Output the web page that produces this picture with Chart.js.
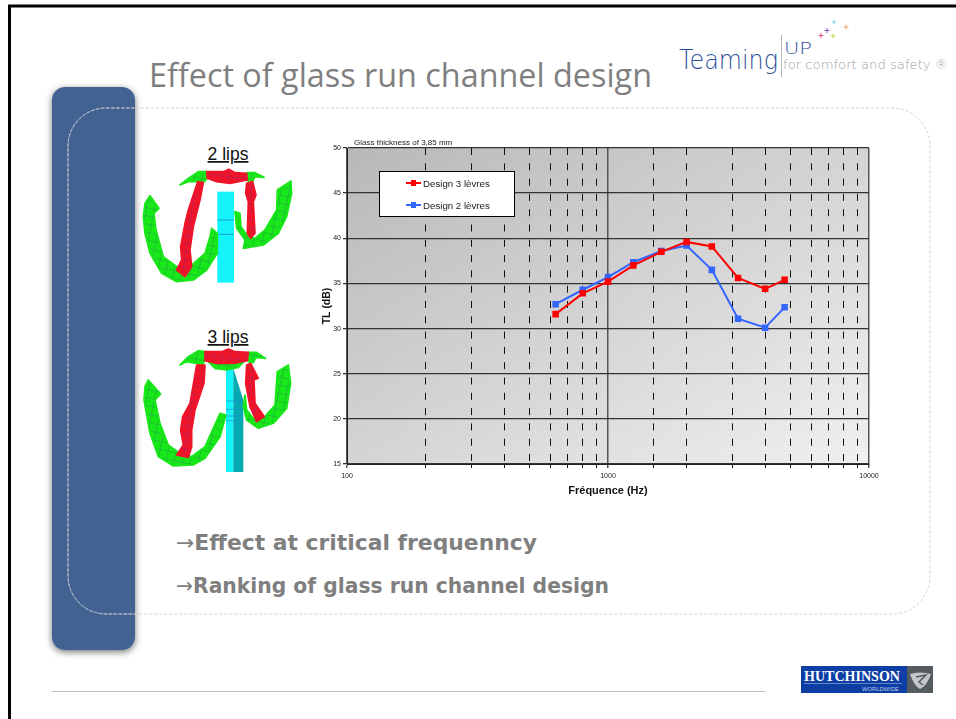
<!DOCTYPE html>
<html>
<head>
<meta charset="utf-8">
<title>Effect of glass run channel design</title>
<script src="https://cdn.jsdelivr.net/npm/chart.js@4/dist/chart.umd.min.js"></script>
<style>
  html, body { margin: 0; padding: 0; background: #fff; overflow: hidden; }
  body { position: relative; width: 956px; height: 719px; font-family: "Liberation Sans", sans-serif; }
  #slide { position: absolute; left: 0; top: 0; }
  #chart { position: absolute; left: 320px; top: 130px; }
  #chartNote { position: absolute; left: 354px; top: 137.5px; font-size: 8px; line-height: 10px; color: #222; }
  #legend { position: absolute; left: 379px; top: 171px; width: 134px; height: 44px; background: #fff; border: 1px solid #000; }
  .row { position: absolute; left: 26px; font-size: 9.7px; line-height: 12px; color: #222; white-space: nowrap; }
  .row i { display: inline-block; position: relative; width: 15px; height: 2px; margin-right: 2px; vertical-align: 3px; }
  .row b { position: absolute; left: 5px; top: -2px; width: 5px; height: 6px; background: inherit; }
  .green polygon { stroke: #18e818; stroke-width: 5; stroke-linejoin: round; }
  .red polygon { stroke: #f01428; stroke-width: 5; stroke-linejoin: round; }
</style>
</head>
<body>
<svg id="slide" width="956" height="719" viewBox="0 0 956 719">
  <defs>
    <filter id="shadow" x="-20%" y="-5%" width="140%" height="110%">
      <feDropShadow dx="0" dy="2" stdDeviation="3.5" flood-color="#000" flood-opacity="0.55"/>
    </filter>
    <pattern id="greenMesh" width="24" height="24" patternUnits="userSpaceOnUse" patternTransform="rotate(12)">
      <rect width="24" height="24" fill="#18e818"/>
      <path d="M0 0H24M0 0V24" stroke="#1e7a60" stroke-width="2"/>
    </pattern>
    <pattern id="redMesh" width="24" height="24" patternUnits="userSpaceOnUse" patternTransform="rotate(8)">
      <rect width="24" height="24" fill="#f01428"/>
      <path d="M0 0H24M0 0V24" stroke="#7a2a78" stroke-width="2"/>
    </pattern>
  </defs>

  <!-- slide frame -->
  <path d="M9.5 719V6H956" fill="none" stroke="#000" stroke-width="3"/>
  <line x1="52" y1="691.5" x2="765" y2="691.5" stroke="#bdbdbd" stroke-width="1"/>

  <!-- side bar and dashed panel -->
  <rect x="52" y="87" width="83" height="563" rx="13" fill="#426491" filter="url(#shadow)"/>
  <rect x="68" y="108" width="862" height="506" rx="38" fill="none" stroke="#d4d4d4" stroke-width="1" stroke-dasharray="3 2"/>
  <path d="M135 108H106A38 38 0 0 0 68 146V576A38 38 0 0 0 106 614H135" fill="none" stroke="#9fb0c6" stroke-width="1" stroke-dasharray="3 2"/>

  <text x="149" y="87" font-family="Open Sans" font-size="32" fill="#7f7f7f" textLength="503" lengthAdjust="spacingAndGlyphs">Effect of glass run channel design</text>

  <!-- Teaming up logo -->
  <text x="679" y="69" font-family="DejaVu Sans" font-weight="200" font-size="26" fill="#2c4f9c" textLength="99" lengthAdjust="spacingAndGlyphs">Teaming</text>
  <line x1="781.5" y1="35" x2="781.5" y2="77" stroke="#b8b8b8" stroke-width="1"/>
  <text x="784" y="54" font-family="DejaVu Sans" font-weight="200" font-size="15.5" fill="#2c4f9c" textLength="28" lengthAdjust="spacingAndGlyphs">UP</text>
  <text x="783" y="69" font-family="DejaVu Sans" font-weight="200" font-size="12" fill="#a0a0a0" textLength="165" lengthAdjust="spacingAndGlyphs">for comfort and safety ®</text>
  <g stroke-width="1" fill="none">
    <path d="M834 19.5v5M831.5 22h5" stroke="#8fd4ee"/>
    <path d="M846 24.5v5M843.5 27h5" stroke="#f0a070"/>
    <path d="M827 28v5M824.5 30.500h5" stroke="#8a5aa8"/>
    <path d="M821 33v5M818.500 35.500h5" stroke="#d8508a"/>
    <path d="M833 33.500v5M830.500 36h5" stroke="#c4d850"/>
  </g>

  <!-- 2 lips section drawing -->
  <text x="228" y="160" font-size="17.500" text-anchor="middle" text-decoration="underline" fill="#111" font-family="Liberation Sans">2 lips</text>
  <g transform="translate(130 130) scale(0.3333)">
    <rect x="262" y="185" width="50" height="273" fill="#14f4fa"/>
    <path d="M262 270H312M262 313H312" stroke="#1aa0d8" stroke-width="3"/>
    <g class="green" fill="url(#greenMesh)">
      <polygon points="60,197 87,235 72,250 78,300 100,380 140,410 180,410 225,370 240,320 245,295 262,310 262,370 230,420 190,450 140,455 95,430 60,370 45,310 40,260 45,220"/>
      <polygon points="315,245 330,250 333,290 355,320 375,325 405,300 440,240 442,180 483,153 485,190 470,260 445,310 400,345 340,355 345,330 320,295"/>
      <polygon points="150,165 175,145 205,125 232,125 232,145 220,158 205,155 175,155"/>
      <polygon points="350,128 375,128 402,142 375,140 368,155 352,152"/>
    </g>
    <g class="red" fill="url(#redMesh)">
      <polygon points="230,125 280,125 297,118 315,128 350,130 352,150 300,160 260,155 232,145"/>
      <polygon points="203,155 220,158 210,210 190,290 180,360 185,410 165,440 140,420 155,390 152,350 165,280 175,240"/>
      <polygon points="350,160 368,155 378,195 370,215 375,310 362,325 352,310 355,215 347,190"/>
    </g>
  </g>

  <!-- 3 lips section drawing -->
  <text x="228" y="343" font-size="17.500" text-anchor="middle" text-decoration="underline" fill="#111" font-family="Liberation Sans">3 lips</text>
  <g transform="translate(130 320) scale(0.3333)">
    <rect x="288" y="145" width="22" height="311" fill="#14f4fa"/>
    <polygon points="310,145 340,240 340,456 310,456" fill="#04a8b0"/>
    <path d="M288 243H340M288 268H340M288 288H340M288 302H340" stroke="#1a90c8" stroke-width="2"/>
    <g class="green" fill="url(#greenMesh)">
      <polygon points="55,180 92,222 75,240 90,310 115,375 150,400 185,410 225,380 270,280 288,285 270,350 225,415 190,435 130,438 85,410 60,340 42,240 45,200"/>
      <polygon points="345,225 350,270 370,295 400,295 435,255 442,155 475,135 482,190 470,265 430,310 385,325 350,300 340,260"/>
      <polygon points="232,122 345,122 325,142 290,150 255,145"/>
      <polygon points="150,135 175,110 205,92 225,95 225,120 218,135 200,130 170,125"/>
      <polygon points="353,97 380,97 407,115 378,112 370,128 355,125"/>
    </g>
    <g class="red" fill="url(#redMesh)">
      <polygon points="225,95 275,95 295,87 315,95 355,97 352,122 310,130 260,130 225,122"/>
      <polygon points="200,135 225,135 222,190 195,270 185,330 185,380 175,412 140,405 160,375 152,330 158,290 180,250"/>
      <polygon points="350,135 362,130 385,175 372,180 375,250 403,290 380,305 360,260 347,190"/>
    </g>
  </g>

  <!-- conclusions -->
  <text x="176" y="550" font-family="DejaVu Sans" font-weight="bold" font-size="21" fill="#7f7f7f" textLength="361" lengthAdjust="spacingAndGlyphs"><tspan font-weight="normal">→</tspan>Effect at critical frequenncy</text>
  <text x="176" y="593" font-family="DejaVu Sans" font-weight="bold" font-size="21" fill="#7f7f7f" textLength="433" lengthAdjust="spacingAndGlyphs"><tspan font-weight="normal">→</tspan>Ranking of glass run channel design</text>

  <!-- Hutchinson logo -->
  <rect x="801" y="666" width="106" height="27" fill="#0c3ea4"/>
  <rect x="907" y="666" width="26" height="27" fill="#545c60"/>
  <text x="804" y="681" font-family="Liberation Serif" font-weight="bold" font-size="14" fill="#fff" textLength="96" lengthAdjust="spacingAndGlyphs">HUTCHINSON</text>
  <line x1="804" y1="683.500" x2="902" y2="683.500" stroke="#8fa6d8" stroke-width="0.7"/>
  <text x="862" y="690.500" font-family="Liberation Sans" font-size="5" fill="#b8c8e8" textLength="37" lengthAdjust="spacingAndGlyphs">WORLDWIDE</text>
  <path d="M910 674Q920 671 931 674Q927 686 920 689Q914 686 910 674Z" fill="#c4c8ca"/>
  <path d="M916 677L926 675L919 682L923 685" fill="none" stroke="#545c60" stroke-width="1.500"/>
</svg>

<canvas id="chart" width="570" height="375"></canvas>
<div id="chartNote">Glass thickness of 3,85 mm</div>
<div id="legend"></div>

<script>
const frequencies = [630, 800, 1000, 1250, 1600, 2000, 2500, 3150, 4000, 4750];
const design3 = [31.6, 33.9, 35.2, 37.0, 38.5, 39.6, 39.1, 35.6, 34.4, 35.4];
const design2 = [32.7, 34.3, 35.7, 37.35, 38.6, 39.2, 36.5, 31.1, 30.1, 32.35];
const seriesNames = ['Design 3 lèvres', 'Design 2 lèvres'];
const seriesColors = ['#ff0000', '#3366ff'];
const xTickLabels = [100, 1000, 10000];

const toPoints = values => values.map((y, i) => ({ x: frequencies[i], y }));
const isDecade = ctx => !!ctx.tick && xTickLabels.includes(ctx.tick.value);

// grey gradient behind the plot, Excel style: equal shade on the two off corners
const plotBackground = {
  id: 'plotBackground',
  beforeDraw(chart) {
    const { ctx, chartArea: a } = chart;
    const w = a.width, h = a.height;
    const t = w * h / (w * w + h * h);
    const cx = a.left + w / 2, cy = a.top + h / 2;
    const g = ctx.createLinearGradient(cx - h * t, cy - w * t, cx + h * t, cy + w * t);
    g.addColorStop(0, '#b8b8b8');
    g.addColorStop(1, '#f0f0f0');
    ctx.save();
    ctx.fillStyle = g;
    ctx.fillRect(a.left, a.top, w, h);
    ctx.restore();
  }
};

const chart = new Chart(document.getElementById('chart'), {
  type: 'line',
  data: {
    datasets: [design3, design2].map((values, i) => ({
      label: seriesNames[i],
      data: toPoints(values),
      borderColor: seriesColors[i],
      backgroundColor: seriesColors[i],
      borderWidth: 2,
      pointStyle: 'rect',
      pointRadius: 3.2,
      tension: 0
    }))
  },
  options: {
    responsive: false,
    animation: false,
    layout: { padding: { top: 18, right: 21 } },
    plugins: { legend: { display: false }, title: { display: false }, tooltip: { enabled: false } },
    scales: {
      x: {
        type: 'logarithmic',
        min: 100,
        max: 10000,
        afterFit: scale => { scale.height = 41; },
        grid: {
          color: ctx => isDecade(ctx) ? '#555' : '#111',
          lineWidth: ctx => isDecade(ctx) ? 1.5 : 1,
          tickLength: 4
        },
        border: {
          color: '#222',
          dash: ctx => isDecade(ctx) || !ctx.tick ? [] : [7, 8.3]
        },
        ticks: {
          autoSkip: false,
          maxRotation: 0,
          padding: 4,
          font: { size: 7, family: 'Liberation Sans' },
          color: '#222',
          callback: val => xTickLabels.includes(val) ? String(val) : ''
        },
        title: {
          display: true,
          text: 'Fréquence (Hz)',
          font: { size: 11, weight: 'bold', family: 'Liberation Sans' },
          color: '#111',
          padding: { top: 0, bottom: 7 }
        }
      },
      y: {
        min: 15,
        max: 50,
        afterFit: scale => { scale.width = 27; },
        grid: { color: '#333', lineWidth: 1.3, tickLength: 4 },
        border: { color: '#222' },
        ticks: {
          stepSize: 5,
          padding: 2,
          font: { size: 7, family: 'Liberation Sans' },
          color: '#222'
        },
        title: {
          display: true,
          text: 'TL (dB)',
          font: { size: 10.5, weight: 'bold', family: 'Liberation Sans' },
          color: '#111',
          padding: { top: 1, bottom: 0 }
        }
      }
    }
  },
  plugins: [plotBackground]
});

// legend box sits inside the plot, built from the datasets
const legendBox = document.getElementById('legend');
chart.data.datasets.forEach((ds, i) => {
  const row = document.createElement('div');
  row.className = 'row';
  row.style.top = (6 + i * 22) + 'px';
  const sample = document.createElement('i');
  sample.style.background = ds.borderColor;
  sample.appendChild(document.createElement('b'));
  row.appendChild(sample);
  row.appendChild(document.createTextNode(ds.label));
  legendBox.appendChild(row);
});
</script>
</body>
</html>
